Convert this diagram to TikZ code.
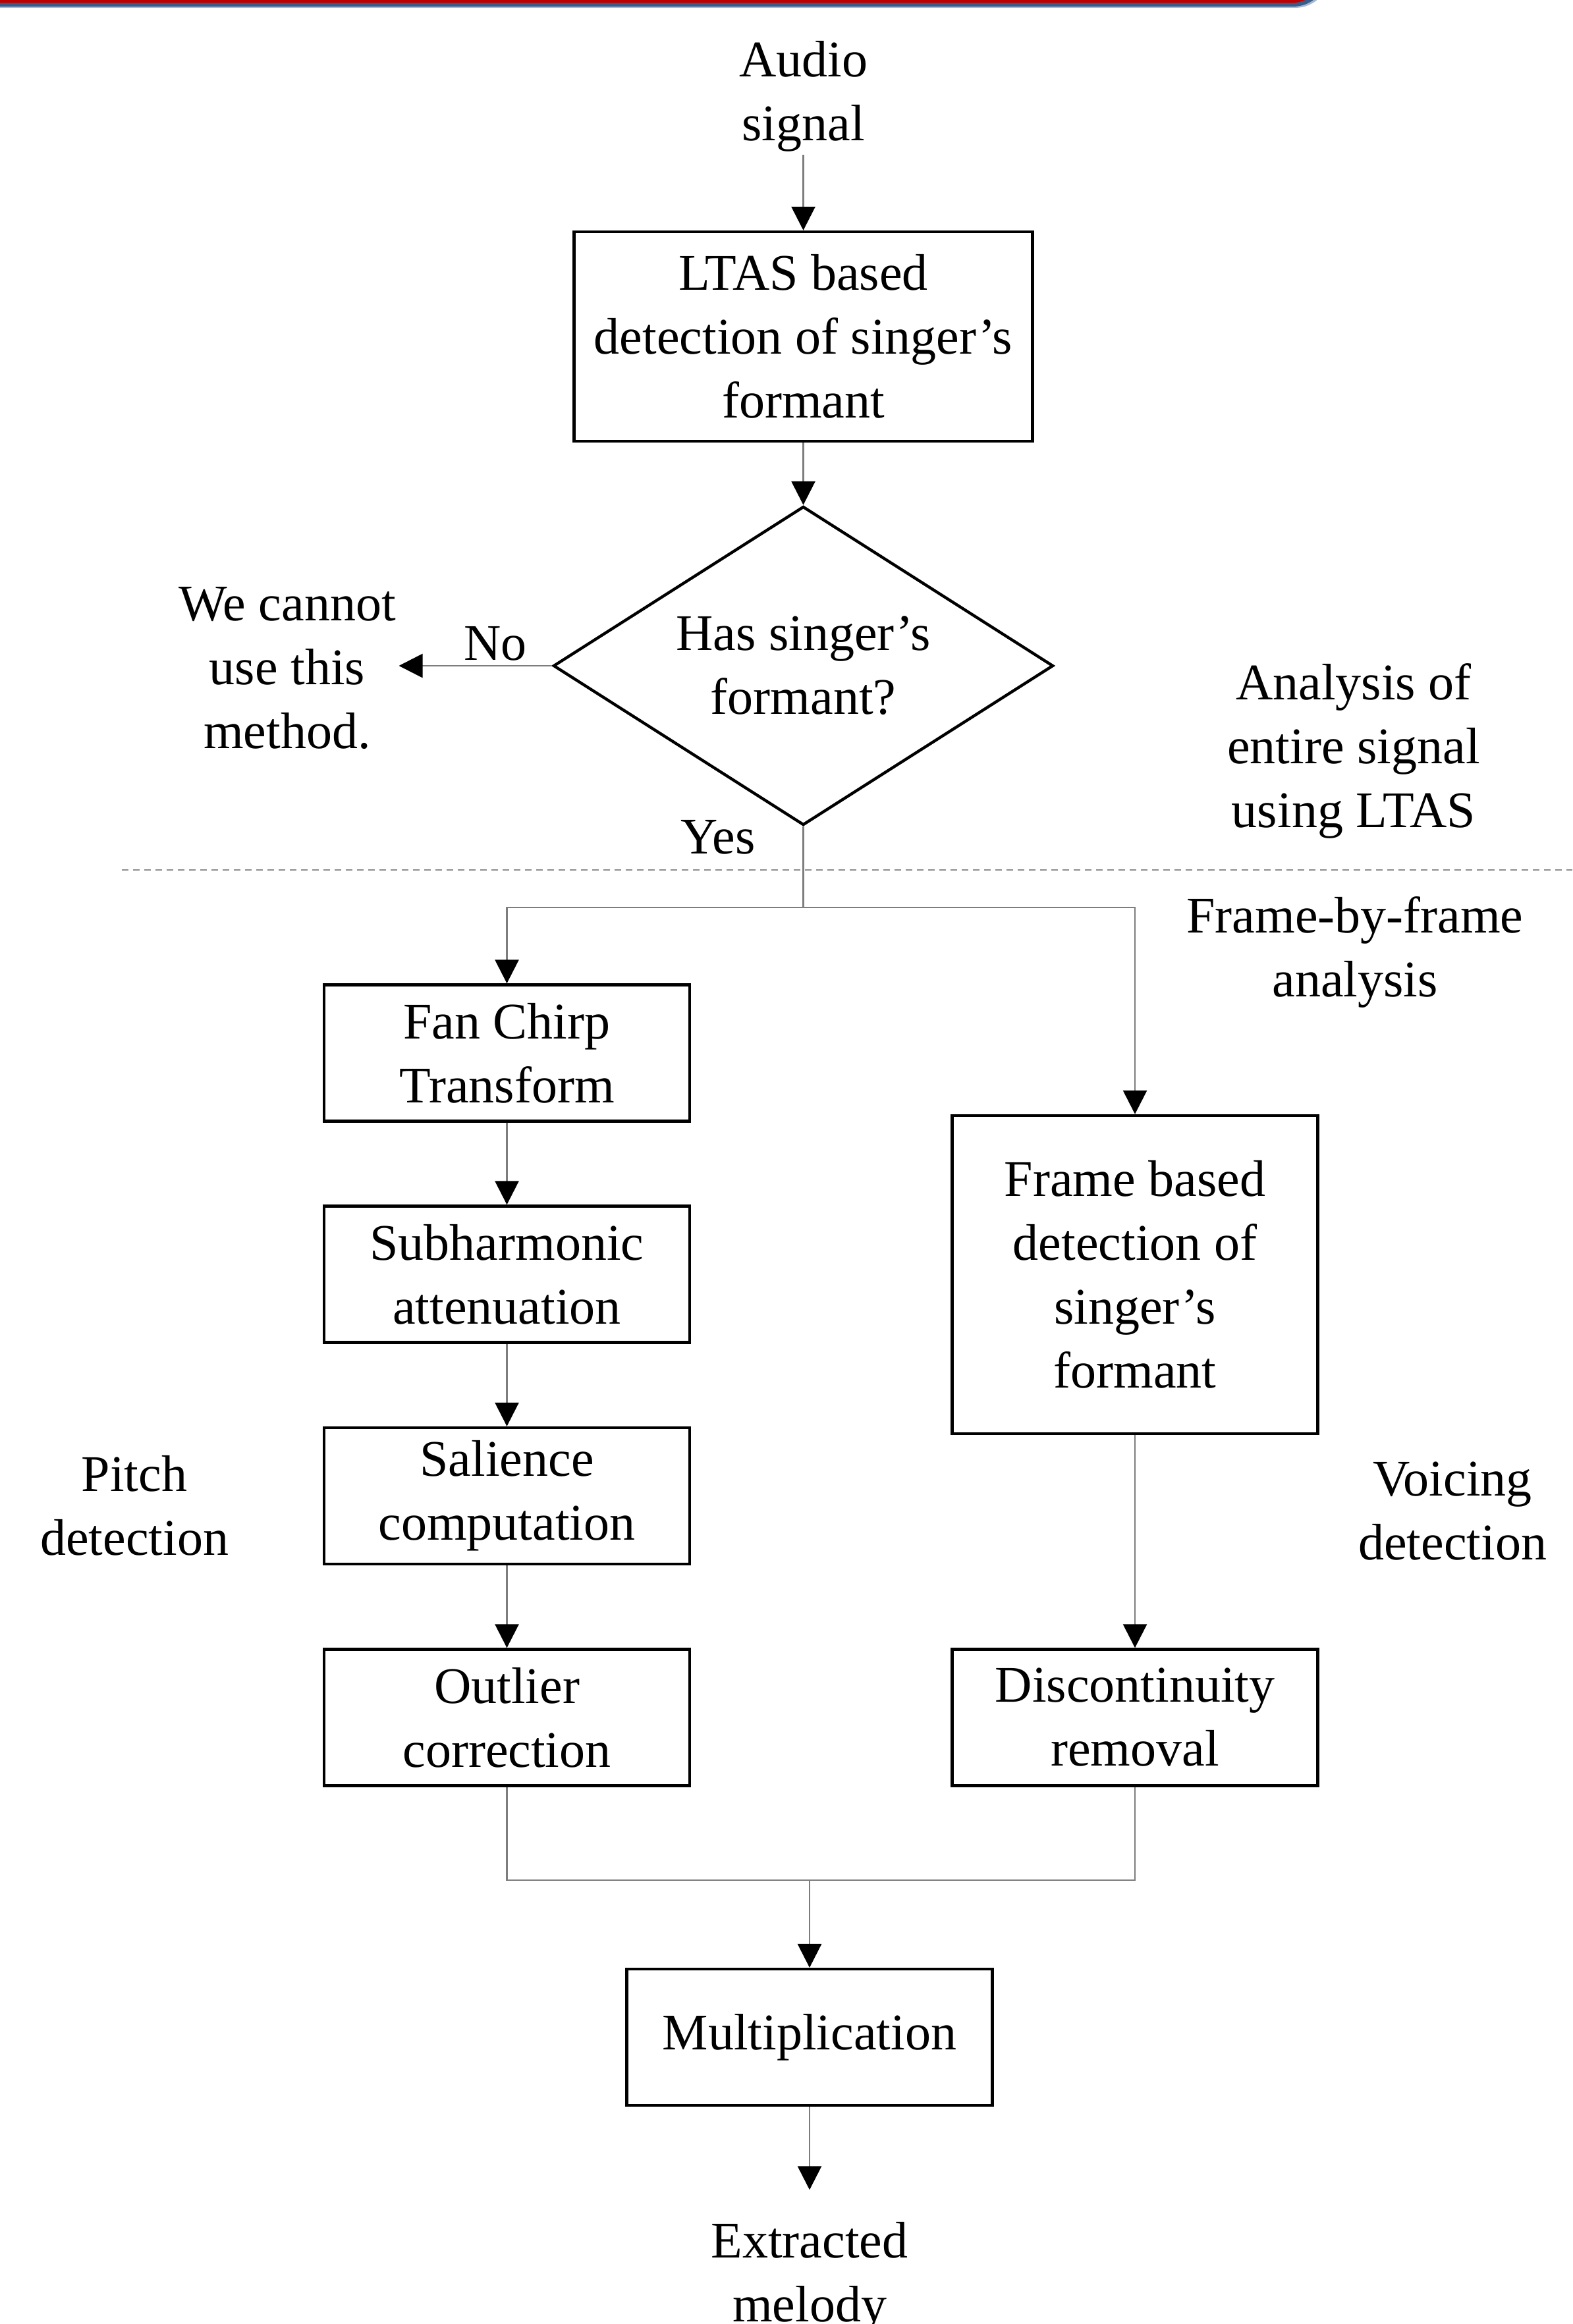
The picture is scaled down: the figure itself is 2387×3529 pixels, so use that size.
\documentclass[tikz,border=0pt]{standalone}
\usepackage{fontspec}
\setmainfont{Liberation Serif}
\usetikzlibrary{arrows.meta,shapes.geometric}
\definecolor{barred}{RGB}{192,0,0}
\definecolor{barblue}{RGB}{56,93,138}
\definecolor{barlight}{RGB}{170,185,208}
\definecolor{conn}{RGB}{125,125,125}
\definecolor{sepgray}{RGB}{140,140,140}
\begin{document}
\begin{tikzpicture}[x=0.25pt,y=-0.25pt,
  font=\fontsize{19.5}{24.25}\selectfont,
  box/.style={draw=black, line width=1.1pt, inner sep=0pt, align=center,
    minimum width=138.75pt, minimum height=51.75pt},
  decision/.style={draw=black, line width=1.1pt, diamond, shape aspect=1.56,
    minimum width=189.75pt, minimum height=121pt, inner sep=0pt, align=center},
  txt/.style={inner sep=1pt, align=center},
  lbl/.style={anchor=base, inner sep=0pt},
  conline/.style={draw=conn, line width=0.7pt},
  arr/.style={conline, -{Triangle[length=9pt,width=9pt,color=black]}},
  sepline/.style={draw=sepgray, line width=0.5pt, dash pattern=on 2.5pt off 1.75pt}
]
\useasboundingbox (0,0) rectangle (2387,3529);
% top banner
\fill[barlight, rounded corners=13.25pt] (-200,-300) rectangle (2019,12);
\fill[barblue, rounded corners=13.25pt] (-200,-300) rectangle (2016,10);
\fill[barred, rounded corners=13.25pt] (-200,-300) rectangle (2013,4.5);

% nodes
\node[txt] (audio) at (1219.5,146) {Audio\\signal};
\node[box, minimum width=174pt, minimum height=79.5pt] (ltas) at (1219.5,511)
  {LTAS based\\detection of singer’s\\formant};
\node[decision] (dia) at (1219.5,1011) {Has singer’s\\formant?};
\node[txt] (cannot) at (436,1015) {We cannot\\use this\\method.};
\node[lbl] (no) at (752,1003) {No};
\node[lbl] (yes) at (1090,1296) {Yes};
\node[txt] (analysis) at (2055,1140) {Analysis of\\entire signal\\using LTAS};
\node[txt] (fbf) at (2057,1446) {Frame-by-frame\\analysis};

\coordinate (sepL) at (185,1321);
\coordinate (sepR) at (2387,1321);
\draw[sepline] (sepL) -- (sepR);

\coordinate (split) at (1219.5,1378);
\node[box] (fct) at (769.5,1599) {Fan Chirp\\Transform};
\node[box] (sub) at (769.5,1935) {Subharmonic\\attenuation};
\node[box] (sal) at (769.5,2271.5) {Salience\\computation};
\node[box] (out) at (769.5,2608) {Outlier\\correction};
\node[box, minimum height=120.75pt] (frame) at (1723,1935.5)
  {Frame based\\detection of\\singer’s\\formant};
\node[box] (disc) at (1723,2608) {Discontinuity\\removal};
\coordinate (join) at (1229,2855);
\node[box] (mult) at (1229,3093.5) {Multiplication};
\node[txt] (melody) at (1229,3458) {Extracted\\melody};
\node[txt] (pitch) at (204,2286) {Pitch\\detection};
\node[txt] (voicing) at (2205,2295) {Voicing\\detection};

% connectors
\draw[arr] (audio.south) -- (ltas.north);
\draw[arr] (ltas.south) -- (dia.north);
\draw[arr] (dia.west) -- (cannot.east |- dia.west);
\draw[conline] (dia.south) -- (split);
\draw[arr] (split) -| (fct.north);
\draw[arr] (split) -| (frame.north);
\draw[arr] (fct.south) -- (sub.north);
\draw[arr] (sub.south) -- (sal.north);
\draw[arr] (sal.south) -- (out.north);
\draw[arr] (frame.south) -- (disc.north);
\draw[conline] (out.south) |- (join);
\draw[conline] (disc.south) |- (join);
\draw[arr] (join) -- (mult.north);
\draw[arr, shorten >=11pt] (mult.south) -- (melody.north);
\end{tikzpicture}
\end{document}
